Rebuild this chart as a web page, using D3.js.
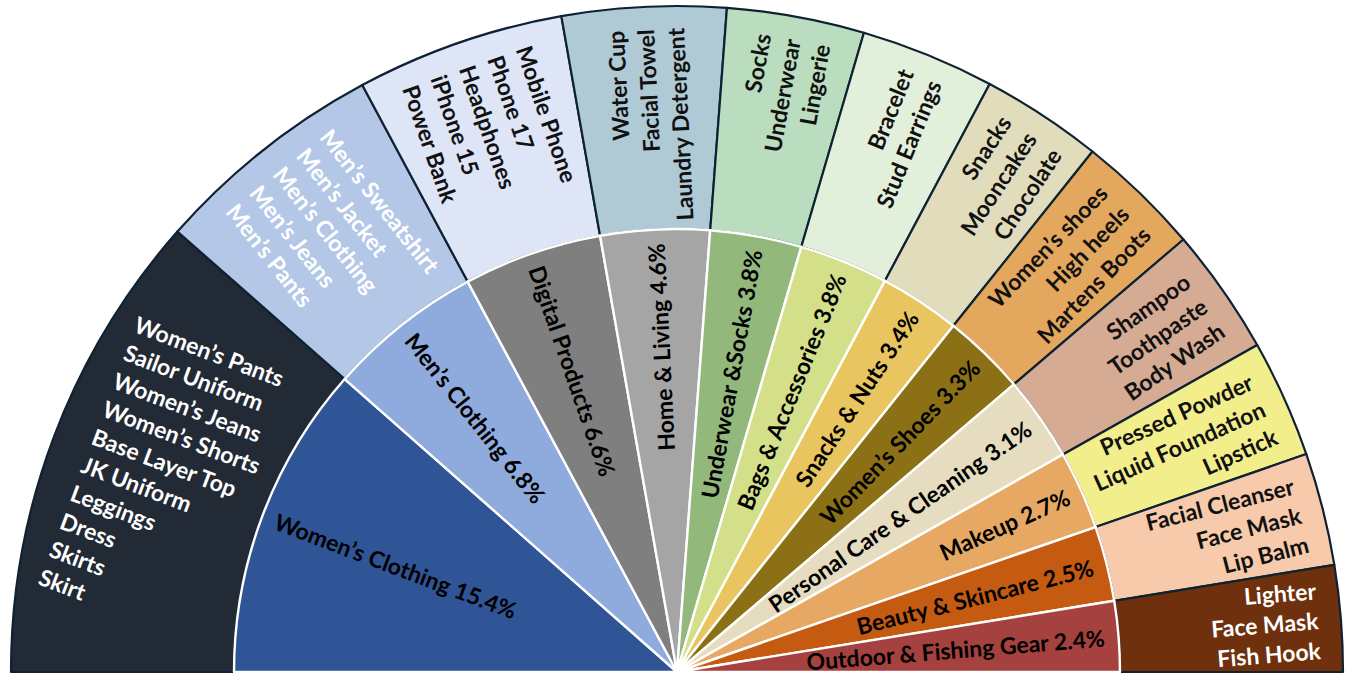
<!DOCTYPE html>
<html>
<head>
<meta charset="utf-8">
<script src="https://cdn.jsdelivr.net/npm/d3@7"></script>
<style>
  body { margin: 0; background: #fff; }
  svg { display: block; }
  text { font-family: Lato, "Open Sans", sans-serif; font-weight: 700; }
</style>
</head>
<body>
<div id="chart"></div>
<script>
// Categories (inner ring), left to right
const categories = ['Women’s Clothing', 'Men’s Clothing', 'Digital Products', 'Home & Living',
  'Underwear &Socks', 'Bags & Accessories', 'Snacks & Nuts', 'Women’s Shoes',
  'Personal Care & Cleaning', 'Makeup', 'Beauty & Skincare', 'Outdoor & Fishing Gear']

// Share shown in the label
const shares = [15.4, 6.8, 6.6, 4.6, 3.8, 3.8, 3.4, 3.3, 3.1, 2.7, 2.5, 2.4]

// Sector size as drawn (degrees of the half circle)
const sectorWeight = [41.4, 20.4, 18.2, 14.3, 12.0, 11.7, 10.6, 10.9, 11.1, 10.3, 9.85, 9.25]

// Top items per category (outer ring)
const topItems = [
  ['Women’s Pants', 'Sailor Uniform', 'Women’s Jeans', 'Women’s Shorts', 'Base Layer Top',
   'JK Uniform', 'Leggings', 'Dress', 'Skirts', 'Skirt'],
  ['Men’s Sweatshirt', 'Men’s Jacket', 'Men’s Clothing', 'Men’s Jeans', 'Men’s Pants'],
  ['Mobile Phone', 'Phone 17', 'Headphones', 'iPhone 15', 'Power Bank'],
  ['Water Cup', 'Facial Towel', 'Laundry Detergent'],
  ['Socks', 'Underwear', 'Lingerie'],
  ['Bracelet', 'Stud Earrings'],
  ['Snacks', 'Mooncakes', 'Chocolate'],
  ['Women’s shoes', 'High heels', 'Martens Boots'],
  ['Shampoo', 'Toothpaste', 'Body Wash'],
  ['Pressed Powder', 'Liquid Foundation', 'Lipstick'],
  ['Facial Cleanser', 'Face Mask', 'Lip Balm'],
  ['Lighter', 'Face Mask', 'Fish Hook']
]

const innerColors = ['#2F5597', '#8FAADC', '#7F7F7F', '#A5A5A5', '#93B87C', '#D3DF89',
  '#E8C55E', '#8B7015', '#E6DDC1', '#E6A862', '#C55A11', '#A5413F']
const outerColors = ['#222A35', '#B4C7E7', '#DDE5F7', '#AFCAD5', '#B9DDBE', '#E2EFDA',
  '#E0DCBC', '#E3A85E', '#D5AB94', '#F3EE8C', '#F6CAAA', '#6E300D']
const outerTextColors = ['#fff', '#fff', '#111', '#111', '#111', '#111',
  '#111', '#111', '#111', '#111', '#111', '#fff']

// Layout
const width = 1348
const height = 675
const cx = 677
const cy = 672
const r1 = 443
const r2 = 666
const fontSize = 23
const lineHeight = 30

const innerColor = d3.scaleOrdinal(categories, innerColors)
const outerColor = d3.scaleOrdinal(categories, outerColors)
const outerText = d3.scaleOrdinal(categories, outerTextColors)

const svg = d3.select('#chart')
  .append('svg')
    .attr('width', width)
    .attr('height', height)
  .append('g')
    .attr('transform', `translate(${cx},${cy})`)

const pie = d3.pie()
  .sort(null)
  .value((d, i) => sectorWeight[i])
  .startAngle(-Math.PI / 2)
  .endAngle(Math.PI / 2)

const slices = pie(categories)

const innerArc = d3.arc().innerRadius(0).outerRadius(r1)
const outerArc = d3.arc().innerRadius(r1).outerRadius(r2)

// Outer ring
svg.selectAll('.outer')
  .data(slices)
  .enter()
  .append('path')
    .attr('class', 'outer')
    .attr('d', outerArc)
    .attr('fill', d => outerColor(d.data))
    .attr('stroke', '#0E2233')
    .attr('stroke-width', 2.2)
    .attr('stroke-linejoin', 'round')

// Inner pie
svg.selectAll('.inner')
  .data(slices)
  .enter()
  .append('path')
    .attr('class', 'inner')
    .attr('d', innerArc)
    .attr('fill', d => innerColor(d.data))
    .attr('stroke', '#fff')
    .attr('stroke-width', 2.4)
    .attr('stroke-linejoin', 'round')

// label helpers: d3 angle is 0 at top, clockwise
const midAngle = d => (d.startAngle + d.endAngle) / 2
const readsInward = d => midAngle(d) < -10 * Math.PI / 180
const rotation = d => {
  const deg = midAngle(d) * 180 / Math.PI
  return readsInward(d) ? deg + 90 : deg - 90
}
const at = (d, r) => [r * Math.sin(midAngle(d)), -r * Math.cos(midAngle(d))]

// Inner labels, anchored near outer edge of the pie
svg.selectAll('.inner-label')
  .data(slices)
  .enter()
  .append('text')
    .attr('class', 'inner-label')
    .attr('transform', d => {
      const p = at(d, r1 - 14)
      return `translate(${p[0]},${p[1]}) rotate(${rotation(d)})`
    })
    .attr('text-anchor', d => readsInward(d) ? 'start' : 'end')
    .attr('dominant-baseline', 'central')
    .attr('font-size', fontSize)
    .attr('fill', '#000')
    .text((d, i) => `${d.data} ${shares[i].toFixed(1)}%`)

// Outer labels: block of lines, outer corners kept inside the ring
const outerLabels = svg.selectAll('.outer-label')
  .data(slices)
  .enter()
  .append('g')
    .attr('class', 'outer-label')
    .attr('transform', (d, i) => {
      const n = topItems[i].length
      const half = (n - 1) / 2 * lineHeight
      const rEdge = r2 - 22
      const p = at(d, Math.sqrt(rEdge * rEdge - half * half))
      return `translate(${p[0]},${p[1]}) rotate(${rotation(d)})`
    })

outerLabels.each(function (d, i) {
  const n = topItems[i].length
  d3.select(this).selectAll('text')
    .data(topItems[i])
    .enter()
    .append('text')
      .attr('x', 0)
      .attr('y', (t, j) => (j - (n - 1) / 2) * lineHeight)
      .attr('text-anchor', readsInward(d) ? 'start' : 'end')
      .attr('dominant-baseline', 'central')
      .attr('font-size', fontSize)
      .attr('fill', outerText(d.data))
      .text(t => t)
})
</script>
</body>
</html>
